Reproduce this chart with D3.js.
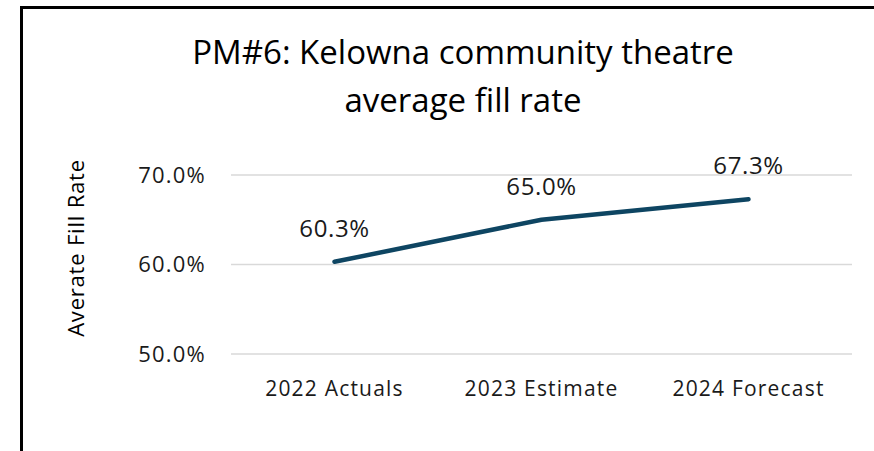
<!DOCTYPE html>
<html>
<head>
<meta charset="utf-8">
<script src="https://cdn.jsdelivr.net/npm/d3@7"></script>
<style>
  body { margin: 0; background: #fff; }
  svg { display: block; font-family: "Open Sans", Lato, sans-serif; }
</style>
</head>
<body>
<svg width="874" height="451"></svg>
<script>
// chart values
const categories = ["2022 Actuals", "2023 Estimate", "2024 Forecast"];
const fillRates = [60.3, 65.0, 67.3];
const yTicks = [50, 60, 70];
const titleLines = ["PM#6: Kelowna community theatre", "average fill rate"];

const svg = d3.select("svg");

// outer frame
svg.append("rect")
    .attr("x", 21.5).attr("y", 7.5)
    .attr("width", 900).attr("height", 500)
    .attr("fill", "none").attr("stroke", "#000").attr("stroke-width", 3);

const plot = { left: 231, right: 852 };

const x = d3.scaleBand().domain(categories).range([plot.left, plot.right]);
const y = d3.scaleLinear().domain([50, 70]).range([354, 175]);

// gridlines
svg.append("g")
    .selectAll("line")
    .data(yTicks)
    .enter().append("line")
    .attr("x1", plot.left).attr("x2", plot.right)
    .attr("y1", d => y(d)).attr("y2", d => y(d))
    .attr("stroke", "#d9d9d9").attr("stroke-width", 1.5);

// y tick labels
svg.append("g")
    .selectAll("text")
    .data(yTicks)
    .enter().append("text")
    .attr("x", 206)
    .attr("y", d => y(d))
    .attr("dy", "0.35em")
    .attr("text-anchor", "end")
    .attr("font-size", 22)
    .attr("letter-spacing", 1.2)
    .attr("fill", "#1a1a1a")
    .text(d => d.toFixed(1) + "%");

// category labels
svg.append("g")
    .selectAll("text")
    .data(categories)
    .enter().append("text")
    .attr("x", d => x(d) + x.bandwidth() / 2)
    .attr("y", 396)
    .attr("text-anchor", "middle")
    .attr("font-size", 21)
    .attr("letter-spacing", 1.2)
    .attr("fill", "#1a1a1a")
    .text(d => d);

// line
const line = d3.line()
    .x((d, i) => x(categories[i]) + x.bandwidth() / 2)
    .y(d => y(d));

svg.append("path")
    .datum(fillRates)
    .attr("d", line)
    .attr("fill", "none")
    .attr("stroke", "#0e4562")
    .attr("stroke-width", 4.5)
    .attr("stroke-linecap", "round")
    .attr("stroke-linejoin", "round");

// data labels
svg.append("g")
    .selectAll("text")
    .data(fillRates)
    .enter().append("text")
    .attr("x", (d, i) => x(categories[i]) + x.bandwidth() / 2)
    .attr("y", d => y(d) - 25)
    .attr("text-anchor", "middle")
    .attr("font-size", 24)
    .attr("letter-spacing", 0.6)
    .attr("fill", "#1a1a1a")
    .text(d => d.toFixed(1) + "%");

// title
svg.append("text")
    .attr("x", 463).attr("y", 64)
    .attr("text-anchor", "middle")
    .attr("font-size", 33)
    .selectAll("tspan")
    .data(titleLines)
    .enter().append("tspan")
    .attr("x", 463)
    .attr("dy", (d, i) => i === 0 ? 0 : 48)
    .text(d => d);

// y axis title
svg.append("text")
    .attr("transform", "translate(84,248) rotate(-90)")
    .attr("text-anchor", "middle")
    .attr("font-size", 22)
    .attr("letter-spacing", 0.8)
    .text("Averate Fill Rate");
</script>
</body>
</html>
